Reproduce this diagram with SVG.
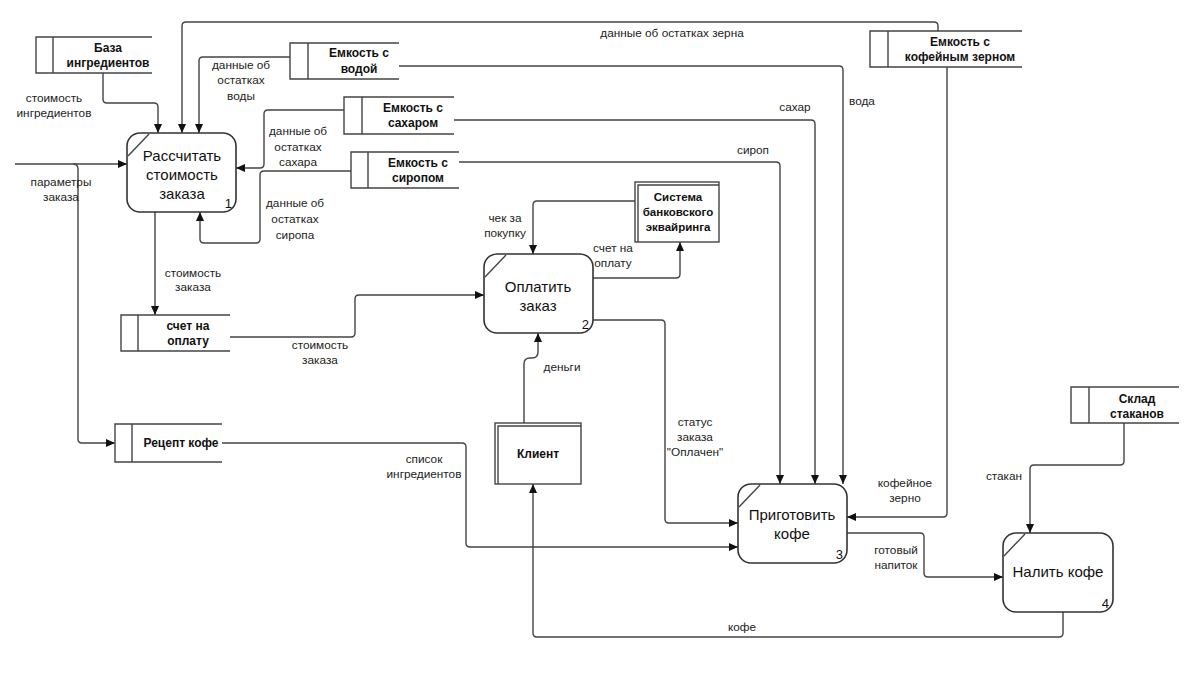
<svg xmlns="http://www.w3.org/2000/svg" width="1200" height="675" viewBox="0 0 1200 675">
<defs>
<marker id="arr" markerWidth="10" markerHeight="10" refX="9" refY="5" orient="auto" markerUnits="userSpaceOnUse">
<path d="M0,1 L9,5 L0,9 Z" fill="#111"/>
</marker>
<style>
.proc{fill:#fff;stroke:#333;stroke-width:1.6}
.ln{fill:none;stroke:#444;stroke-width:1.4}
.st{fill:none;stroke:#444;stroke-width:1.4}
.conn path{fill:none;stroke:#444;stroke-width:1.4;marker-end:url(#arr)}
.lbl{font-family:"Liberation Sans",Arial,sans-serif;font-size:11.8px;fill:#222;text-anchor:middle}
.sname{font-family:"Liberation Sans",Arial,sans-serif;font-size:12px;font-weight:bold;fill:#111;text-anchor:middle}
.pname{font-family:"Liberation Sans",Arial,sans-serif;font-size:15px;fill:#111;text-anchor:middle}
.pnum{font-family:"Liberation Sans",Arial,sans-serif;font-size:13px;fill:#111;text-anchor:end}
</style>
</defs>
<rect width="1200" height="675" fill="#fff"/>

<g id="connectors" class="conn">
<path d="M103,73 V99 Q103,103 107,103 H154 Q158,103 158,107 V133"/>
<path d="M938,31 V26 Q938,22 934,22 H186 Q182,22 182,26 V133"/>
<path d="M290,57 H203 Q199,57 199,61 V133"/>
<path d="M344,110 H268 Q264,110 264,114 V164 Q264,168 260,168 H236"/>
<path d="M351,171 H264 Q260,171 260,175 V239 Q260,243 256,243 H204 Q200,243 200,239 V212"/>
<path d="M15,164 H127"/>
<path d="M73,164 Q78,164 78,169 V439 Q78,443 82,443 H115"/>
<path d="M155,212 V315"/>
<path d="M230,337 H351 Q355,337 355,333 V299 Q355,295 359,295 H484"/>
<path d="M635,201 H537 Q533,201 533,205 V254"/>
<path d="M593,278 H676 Q680,278 680,274 V242"/>
<path d="M524,423 V364 Q524,358 530,358 H532 Q538,358 538,352 V333"/>
<path d="M593,320 H661 Q665,320 665,324 V519 Q665,523 669,523 H738"/>
<path d="M222,443 H462 Q466,443 466,447 V543 Q466,547 470,547 H738"/>
<path d="M459,162 H776 Q780,162 780,166 V484"/>
<path d="M454,120 H811 Q815,120 815,124 V484"/>
<path d="M399,66 H839 Q843,66 843,70 V484"/>
<path d="M947,67 V513 Q947,517 943,517 H847"/>
<path d="M847,533 H920 Q924,533 924,537 V573 Q924,577 928,577 H1003"/>
<path d="M1124,423 V461 Q1124,465 1120,465 H1034 Q1030,465 1030,469 V533"/>
<path d="M1063,612 V633 Q1063,637 1059,637 H537 Q533,637 533,633 V484"/>
</g>

<g id="labels">
<text class="lbl" x="672" y="37">данные об остатках зерна</text>
<text class="lbl" x="54" y="102">стоимость</text>
<text class="lbl" x="54" y="117">ингредиентов</text>
<text class="lbl" x="241" y="69">данные об</text>
<text class="lbl" x="241" y="84">остатках</text>
<text class="lbl" x="241" y="100">воды</text>
<text class="lbl" x="298" y="135">данные об</text>
<text class="lbl" x="298" y="151">остатках</text>
<text class="lbl" x="298" y="166">сахара</text>
<text class="lbl" x="295" y="207">данные об</text>
<text class="lbl" x="295" y="223">остатках</text>
<text class="lbl" x="295" y="239">сиропа</text>
<text class="lbl" x="61" y="186">параметры</text>
<text class="lbl" x="61" y="201">заказа</text>
<text class="lbl" x="193" y="277">стоимость</text>
<text class="lbl" x="193" y="291">заказа</text>
<text class="lbl" x="320" y="349">стоимость</text>
<text class="lbl" x="320" y="364">заказа</text>
<text class="lbl" x="505" y="222">чек за</text>
<text class="lbl" x="505" y="237">покупку</text>
<text class="lbl" x="613" y="252">счет на</text>
<text class="lbl" x="613" y="267">оплату</text>
<text class="lbl" x="562" y="371">деньги</text>
<text class="lbl" x="695" y="426">статус</text>
<text class="lbl" x="695" y="441">заказа</text>
<text class="lbl" x="695" y="456">"Оплачен"</text>
<text class="lbl" x="424" y="463">список</text>
<text class="lbl" x="424" y="478">ингредиентов</text>
<text class="lbl" x="795" y="111">сахар</text>
<text class="lbl" x="862" y="105">вода</text>
<text class="lbl" x="753" y="154">сироп</text>
<text class="lbl" x="905" y="487">кофейное</text>
<text class="lbl" x="905" y="502">зерно</text>
<text class="lbl" x="896" y="554">готовый</text>
<text class="lbl" x="896" y="569">напиток</text>
<text class="lbl" x="1004" y="480">стакан</text>
<text class="lbl" x="742" y="631">кофе</text>
</g>

<g id="p1">
<rect class="proc" x="127" y="133" width="109" height="79" rx="13"/>
<line class="ln" x1="128" y1="156" x2="149" y2="134"/>
<text class="pname" x="182" y="161">Рассчитать</text>
<text class="pname" x="182" y="180">стоимость</text>
<text class="pname" x="182" y="199">заказа</text>
<text class="pnum" x="232" y="208">1</text>
</g>
<g id="p2">
<rect class="proc" x="484" y="254" width="109" height="79" rx="13"/>
<line class="ln" x1="485" y1="277" x2="506" y2="255"/>
<text class="pname" x="538" y="292">Оплатить</text>
<text class="pname" x="538" y="311">заказ</text>
<text class="pnum" x="589" y="329">2</text>
</g>
<g id="p3">
<rect class="proc" x="738" y="484" width="109" height="79" rx="13"/>
<line class="ln" x1="739" y1="507" x2="760" y2="485"/>
<text class="pname" x="792" y="520">Приготовить</text>
<text class="pname" x="792" y="539">кофе</text>
<text class="pnum" x="843" y="559">3</text>
</g>
<g id="p4">
<rect class="proc" x="1003" y="533" width="110" height="79" rx="13"/>
<line class="ln" x1="1004" y1="556" x2="1025" y2="534"/>
<text class="pname" x="1058" y="577">Налить кофе</text>
<text class="pnum" x="1109" y="608">4</text>
</g>

<g id="s-base">
<path class="st" d="M152,37 H36 V73 H152 M53,37 V73"/>
<text class="sname" x="108" y="52">База</text>
<text class="sname" x="108" y="67">ингредиентов</text>
</g>
<g id="s-water">
<path class="st" d="M399,43 H290 V79 H399 M308,43 V79"/>
<text class="sname" x="359" y="57">Емкость с</text>
<text class="sname" x="359" y="73">водой</text>
</g>
<g id="s-sugar">
<path class="st" d="M454,97 H344 V134 H454 M362,97 V134"/>
<text class="sname" x="413" y="112">Емкость с</text>
<text class="sname" x="413" y="127">сахаром</text>
</g>
<g id="s-syrup">
<path class="st" d="M459,152 H351 V188 H459 M368,152 V188"/>
<text class="sname" x="418" y="167">Емкость с</text>
<text class="sname" x="418" y="182">сиропом</text>
</g>
<g id="s-coffee">
<path class="st" d="M1022,31 H870 V67 H1022 M888,31 V67"/>
<text class="sname" x="960" y="46">Емкость с</text>
<text class="sname" x="960" y="61">кофейным зерном</text>
</g>
<g id="s-bill">
<path class="st" d="M230,315 H121 V351 H230 M138,315 V351"/>
<text class="sname" x="188" y="330">счет на</text>
<text class="sname" x="188" y="345">оплату</text>
</g>
<g id="s-recipe">
<path class="st" d="M222,424 H115 V462 H222 M132,424 V462"/>
<text class="sname" x="181" y="447">Рецепт кофе</text>
</g>
<g id="s-cups">
<path class="st" d="M1179,387 H1071 V423 H1179 M1089,387 V423"/>
<text class="sname" x="1137" y="403">Склад</text>
<text class="sname" x="1137" y="418">стаканов</text>
</g>

<g id="e-bank">
<rect x="635" y="182" width="84" height="60" fill="#fff" stroke="#444" stroke-width="1.4"/>
<path class="st" d="M638,242 V185 H719"/>
<text class="sname" x="678" y="201" style="font-size:11.5px">Система</text>
<text class="sname" x="678" y="216" style="font-size:11.5px">банковского</text>
<text class="sname" x="678" y="231" style="font-size:11.5px">эквайринга</text>
</g>
<g id="e-client">
<rect x="495" y="423" width="86" height="61" fill="#fff" stroke="#444" stroke-width="1.4"/>
<path class="st" d="M498,484 V426 H581"/>
<text class="sname" x="538" y="458">Клиент</text>
</g>
</svg>
